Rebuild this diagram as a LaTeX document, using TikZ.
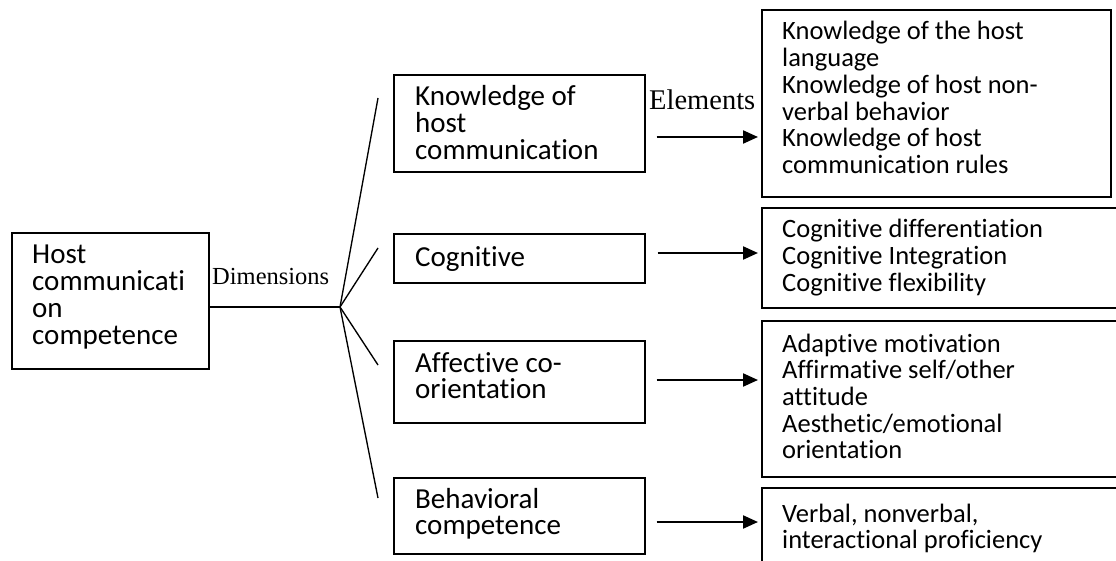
\documentclass[tikz,border=0pt]{standalone}
\usepackage{fontspec}
\setmainfont{Carlito}[Ligatures={NoCommon}]
\newfontfamily\timesfont{Liberation Serif}
\usetikzlibrary{arrows.meta}
% multi-line block whose baseline is that of its first line
\newcommand\blocklines[2][29]{\parbox[t]{340pt}{\fontsize{#1}{26.7}\selectfont\lineskiplimit=-100pt\lineskip=0pt\raggedright #2}}
\begin{document}
\begin{tikzpicture}[x=1pt,y=-1pt,
  frame/.style={draw, line width=1.6pt, inner sep=0pt, anchor=north west},
  txt/.style={inner sep=0pt, anchor=base west},
  fan/.style={line width=1.35pt},
  arr/.style={line width=2.2pt, -{Triangle[length=15pt,width=13pt]}}]
\useasboundingbox (0,0) rectangle (1116,561);
\clip (0,0) rectangle (1116,561);

% dimension boxes
\node[frame, minimum width=197pt, minimum height=136pt] (host) at (11,232) {};
\node[frame, minimum width=251pt, minimum height=97pt] (kn) at (393,74) {};
\node[frame, minimum width=251pt, minimum height=49pt] (cog) at (393,233) {};
\node[frame, minimum width=251pt, minimum height=82pt] (aff) at (393,340) {};
\node[frame, minimum width=251pt, minimum height=76pt] (beh) at (393,477) {};

% element boxes
\node[frame, minimum width=349pt, minimum height=187pt] (e1) at (761,9) {};
\node[frame, minimum width=370pt, minimum height=100pt] (e2) at (761,207) {};
\node[frame, minimum width=370pt, minimum height=156pt] (e3) at (761,320) {};
\node[frame, minimum width=370pt, minimum height=100pt] (e4) at (761,487) {};

% texts
\node[txt] (hostT) at (32,264) {\blocklines{Host\\communicati\\on\\competence}};
\node[txt] (knT) at (415,106) {\blocklines{Knowledge of\\host\\communication}};
\node[txt] (cogT) at (415,267) {\blocklines{Cognitive}};
\node[txt] (affT) at (415,372) {\blocklines{Affective co-\\orientation}};
\node[txt] (behT) at (415,508) {\blocklines{Behavioral\\competence}};
\node[txt] (e1T) at (782,40) {\blocklines[26.5]{Knowledge of the host\\language\\Knowledge of host non-\\verbal behavior\\Knowledge of host\\communication rules}};
\node[txt] (e2T) at (782,238) {\blocklines[26.5]{Cognitive differentiation\\Cognitive Integration\\Cognitive flexibility}};
\node[txt] (e3T) at (782,352) {\blocklines[26.5]{Adaptive motivation\\Affirmative self/other\\attitude\\Aesthetic/emotional\\orientation}};
\node[txt] (e4T) at (782,522) {\blocklines[26.5]{Verbal, nonverbal,\\interactional proficiency}};

\node[txt, font=\timesfont\fontsize{24.5}{28}\selectfont] (dimL) at (212,284) {Dimensions};
\node[txt, font=\timesfont\fontsize{28.5}{32}\selectfont] (elL) at (649,110) {Elements};

% fan of dimensions
\coordinate (hub) at (340,307);
\coordinate (f1) at (378,98);
\coordinate (f2) at (378,248);
\coordinate (f3) at (378,365);
\coordinate (f4) at (378,498);
\draw[fan] (hub -| host.east) -- (hub);
\draw[fan] (hub) -- (f1);
\draw[fan] (hub) -- (f2);
\draw[fan] (hub) -- (f3);
\draw[fan] (hub) -- (f4);

% element arrows
\coordinate (r1) at (0,137);
\coordinate (r2) at (0,253);
\coordinate (r3) at (0,380);
\coordinate (r4) at (0,522);
\draw[arr, shorten <=11pt, shorten >=3pt] (kn.east |- r1) -- (e1.west |- r1);
\draw[arr, shorten <=12pt, shorten >=3pt] (cog.east |- r2) -- (e2.west |- r2);
\draw[arr, shorten <=11pt, shorten >=3pt] (aff.east |- r3) -- (e3.west |- r3);
\draw[arr, shorten <=11pt, shorten >=3pt] (beh.east |- r4) -- (e4.west |- r4);
\end{tikzpicture}
\end{document}
